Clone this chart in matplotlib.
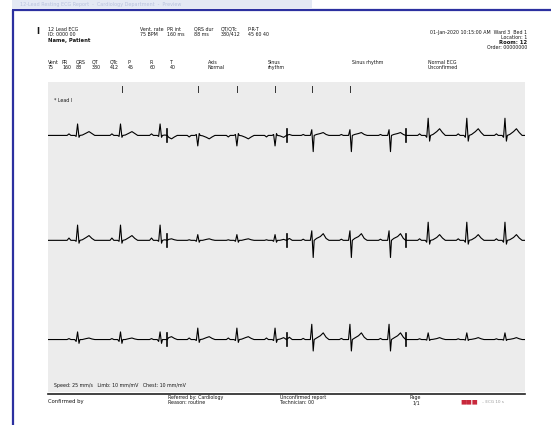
import matplotlib
matplotlib.use("Agg")
import matplotlib.pyplot as plt
from matplotlib.patches import Rectangle

# ---------------- data ----------------
lead_rows = [["I", "aVR", "V1", "V4"],
             ["II", "aVL", "V2", "V5"],
             ["III", "aVF", "V3", "V6"]]

# R-peak times (s) read from the strip
beat_times = [0.62, 1.52, 2.35, 3.14, 3.96, 4.76, 5.53, 6.33, 7.15, 7.97, 8.78, 9.58]
# beats marked with ticks along the top of the grid
marker_times = [1.55, 3.14, 3.96, 4.76, 5.53, 6.33]

# time offsets (s) of the beat outline points relative to the R peak
beat_offsets = [-0.30, -0.22, -0.18, -0.14, -0.06, -0.03, 0.00, 0.03, 0.05,
                0.10, 0.18, 0.24, 0.30, 0.36, 0.44]

# amplitude (mV) of each outline point, per lead
beat_I   = [0, 0, 0.08, 0, 0, -0.05, 0.60, -0.10, 0, 0.02, 0.12, 0.20, 0.10, 0, 0]
beat_aVR = [0, 0, -0.08, 0, 0, 0.05, -0.55, 0.10, 0, -0.02, -0.10, -0.18, -0.08, 0, 0]
beat_V1  = [0, 0, 0.05, 0, 0, 0, 0.30, -0.85, 0, 0.05, 0.10, 0.15, 0.05, 0, 0]
beat_V4  = [0, 0, 0.08, 0, 0, -0.10, 0.90, -0.30, 0, 0.05, 0.20, 0.35, 0.15, 0, 0]
beat_II  = [0, 0, 0.12, 0, 0, -0.05, 0.80, -0.15, 0, 0.03, 0.15, 0.25, 0.10, 0, 0]
beat_aVL = [0, 0, 0.03, 0, 0, -0.05, 0.30, -0.10, 0, 0, 0.05, 0.08, 0.03, 0, 0]
beat_V2  = [0, 0, 0.06, 0, 0, 0, 0.50, -0.90, 0, 0.10, 0.20, 0.35, 0.10, 0, 0]
beat_V5  = [0, 0, 0.08, 0, 0, -0.10, 0.95, -0.20, 0, 0.03, 0.15, 0.30, 0.12, 0, 0]
beat_III = [0, 0, 0.05, 0, 0, -0.10, 0.40, -0.20, 0, 0, 0.05, 0.08, 0.03, 0, 0]
beat_aVF = [0, 0, 0.08, 0, 0, -0.05, 0.60, -0.15, 0, 0.02, 0.10, 0.15, 0.06, 0, 0]
beat_V3  = [0, 0, 0.06, 0, 0, 0, 0.80, -0.60, 0, 0.08, 0.20, 0.35, 0.12, 0, 0]
beat_V6  = [0, 0, 0.04, 0, 0, -0.03, 0.35, -0.05, 0, 0.01, 0.05, 0.10, 0.04, 0, 0]

lead_beats = {"I": beat_I, "aVR": beat_aVR, "V1": beat_V1, "V4": beat_V4,
              "II": beat_II, "aVL": beat_aVL, "V2": beat_V2, "V5": beat_V5,
              "III": beat_III, "aVF": beat_aVF, "V3": beat_V3, "V6": beat_V6}

row_baselines = [13.45, 7.95, 2.75]   # mV positions of the three rows
col_width = 2.5                        # seconds per lead column

header_left = ["12 Lead ECG", "ID: 0000 00", "Name, Patient"]
header_cols = [("Vent. rate", "75 BPM"), ("PR int", "160 ms"), ("QRS dur", "88 ms"),
               ("QT/QTc", "380/412"), ("P-R-T", "45 60 40")]
header_right = ["01-Jan-2020 10:15:00 AM  Ward 3  Bed 1", "Location: 1",
                "Room: 12", "Order: 00000000"]
meas_row1 = ["Vent", "PR", "QRS", "QT", "QTc", "P", "R", "T", "Axis", "", "Sinus"]
meas_row2 = ["75", "160", "88", "380", "412", "45", "60", "40", "Normal", "", "rhythm"]

# ---------------- figure ----------------
fig = plt.figure(figsize=(5.51, 4.25), dpi=100)
fig.patch.set_facecolor("white")

ax0 = fig.add_axes([0, 0, 1, 1])
ax0.set_xlim(0, 551)
ax0.set_ylim(425, 0)
ax0.axis("off")

# faded title strip and blue frame
ax0.add_patch(Rectangle((12, 0), 300, 8, color="#e4e9f4", lw=0))
ax0.text(20, 4, "12-Lead Resting ECG Report  -  Cardiology Department  -  Preview",
         fontsize=3.5, color="#b9c2dd", va="center")
ax0.plot([12, 551], [9.5, 9.5], color="#2c30a0", lw=1.6, solid_capstyle="butt")
ax0.plot([13, 13], [9.5, 425], color="#2c30a0", lw=1.6, solid_capstyle="butt")

tc = "#151515"
fs = 3.4
# header
ax0.text(36, 31, "I", fontsize=6, color=tc, va="center", fontweight="bold")
ax0.text(48, 29, header_left[0], fontsize=fs, color=tc, va="center")
ax0.text(48, 34, header_left[1], fontsize=fs, color=tc, va="center")
ax0.text(48, 40, header_left[2], fontsize=3.8, color=tc, va="center", fontweight="bold")
for i, (a, b) in enumerate(header_cols):
    x = 140 + i * 27
    ax0.text(x, 29, a, fontsize=fs, color=tc, va="center")
    ax0.text(x, 34, b, fontsize=fs, color=tc, va="center")
ax0.text(527, 32, header_right[0], fontsize=fs, color=tc, va="center", ha="right")
ax0.text(527, 37, header_right[1], fontsize=fs, color=tc, va="center", ha="right")
ax0.text(527, 42, header_right[2], fontsize=3.8, color=tc, va="center", ha="right",
         fontweight="bold")
ax0.text(527, 47, header_right[3], fontsize=fs, color=tc, va="center", ha="right")

# measurement rows
mx = [48, 62, 76, 92, 110, 128, 150, 170, 208, 240, 268]
for x, a, b in zip(mx, meas_row1, meas_row2):
    ax0.text(x, 62, a, fontsize=fs, color=tc, va="center")
    ax0.text(x, 67, b, fontsize=fs, color=tc, va="center")
ax0.text(352, 62, "Sinus rhythm", fontsize=fs, color=tc, va="center")
ax0.text(428, 62, "Normal ECG", fontsize=fs, color=tc, va="center")
ax0.text(428, 67, "Unconfirmed", fontsize=fs, color=tc, va="center")

# footer
ax0.plot([48, 525], [393.5, 393.5], color="#222222", lw=1.2)
ax0.text(48, 402, "Confirmed by", fontsize=3.8, color=tc, va="center")
ax0.text(168, 398, "Referred by: Cardiology", fontsize=fs, color=tc, va="center")
ax0.text(168, 403, "Reason: routine", fontsize=fs, color=tc, va="center")
ax0.text(280, 398, "Unconfirmed report", fontsize=fs, color=tc, va="center")
ax0.text(280, 403, "Technician: 00", fontsize=fs, color=tc, va="center")
ax0.text(410, 398, "Page", fontsize=fs, color=tc, va="center")
ax0.text(412, 403, "1/1", fontsize=fs, color=tc, va="center")
ax0.text(460, 402, "\u25A0\u25A0\u25A0", fontsize=4.5, color="#c8283c", va="center")
ax0.text(482, 402, "\u2013 ECG 10 s", fontsize=3.0, color="#999999", va="center")

# ---------------- ECG grid ----------------
ax = fig.add_axes([48 / 551, 1 - 392 / 425, 477 / 551, 310 / 425])
ax.set_facecolor("#ececec")
ax.set_xlim(0, 10)
ax.set_ylim(0, 16.25)
ax.set_xticks([])
ax.set_yticks([])
for s in ax.spines.values():
    s.set_visible(False)

for r, row in enumerate(lead_rows):
    base = row_baselines[r]
    for c, lead in enumerate(row):
        t0, t1 = c * col_width, (c + 1) * col_width
        xs, ys = [t0], [base]
        vals = lead_beats[lead]
        for bt in beat_times:
            for off, v in zip(beat_offsets, vals):
                t = bt + off
                if t0 < t < t1:
                    xs.append(t)
                    ys.append(base + v)
        xs.append(t1)
        ys.append(base)
        ax.plot(xs, ys, color="black", lw=0.8)
        if c > 0:
            ax.plot([t0, t0], [base - 0.35, base + 0.35], color="black", lw=1.2)

# beat markers along the top of the grid
for mt in marker_times:
    ax.plot([mt, mt], [15.75, 16.05], color="#333333", lw=0.7)

ax.text(0.12, 15.3, "* Lead I", fontsize=3.4, color=tc, va="center")
ax.text(0.12, 0.35, "Speed: 25 mm/s   Limb: 10 mm/mV   Chest: 10 mm/mV",
        fontsize=3.4, color=tc, va="center")

fig.savefig("out.png", dpi=100)
